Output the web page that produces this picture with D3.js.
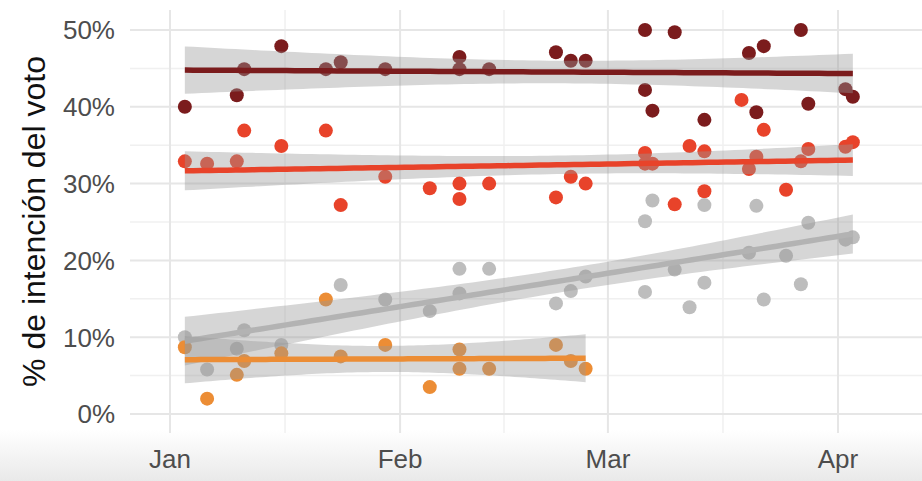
<!DOCTYPE html>
<html>
<head>
<meta charset="utf-8">
<script src="https://cdn.jsdelivr.net/npm/d3@7"></script>
<style>
  body { margin: 0; background: #fff; }
  svg { display: block; font-family: "Liberation Sans", Arial, Helvetica, sans-serif; }
</style>
</head>
<body>
<div id="chart"></div>
<script>
// datos (fecha de la encuesta, % de voto)
var fechasGranate = ["2019-01-03","2019-01-10","2019-01-11","2019-01-16","2019-01-22","2019-01-24","2019-01-30",
  "2019-02-09","2019-02-09","2019-02-13","2019-02-22","2019-02-24","2019-02-26","2019-03-06","2019-03-06",
  "2019-03-07","2019-03-10","2019-03-14","2019-03-20","2019-03-21","2019-03-22","2019-03-27","2019-03-28",
  "2019-04-02","2019-04-03"];
var votosGranate = [40.0, 41.5, 44.9, 47.9, 44.9, 45.8, 44.9, 46.5, 44.9, 44.9, 47.1, 46.0, 46.0, 50.0, 42.2,
  39.5, 49.7, 38.3, 47.0, 39.3, 47.9, 50.0, 40.4, 42.3, 41.3];

var fechasRojo = ["2019-01-03","2019-01-06","2019-01-10","2019-01-11","2019-01-16","2019-01-22","2019-01-24",
  "2019-01-30","2019-02-05","2019-02-09","2019-02-09","2019-02-13","2019-02-22","2019-02-24","2019-02-26",
  "2019-03-06","2019-03-06","2019-03-07","2019-03-10","2019-03-12","2019-03-14","2019-03-14","2019-03-19",
  "2019-03-20","2019-03-21","2019-03-22","2019-03-25","2019-03-27","2019-03-28","2019-04-02","2019-04-03"];
var votosRojo = [32.9, 32.6, 32.9, 36.9, 34.9, 36.9, 27.2, 30.9, 29.4, 30.0, 28.0, 30.0, 28.2, 30.9, 30.0,
  34.0, 32.6, 32.6, 27.3, 34.9, 34.2, 29.0, 40.9, 31.9, 33.5, 37.0, 29.2, 32.9, 34.5, 34.8, 35.4];

var fechasGris = ["2019-01-03","2019-01-06","2019-01-10","2019-01-11","2019-01-16","2019-01-24","2019-01-30",
  "2019-02-05","2019-02-09","2019-02-09","2019-02-13","2019-02-22","2019-02-24","2019-02-26","2019-03-06",
  "2019-03-06","2019-03-07","2019-03-10","2019-03-12","2019-03-14","2019-03-14","2019-03-20","2019-03-21",
  "2019-03-22","2019-03-25","2019-03-27","2019-03-28","2019-04-02","2019-04-03"];
var votosGris = [10.0, 5.8, 8.5, 10.9, 9.0, 16.8, 14.9, 13.4, 18.9, 15.7, 18.9, 14.4, 16.0, 17.9, 25.1,
  15.9, 27.8, 18.8, 13.9, 27.2, 17.1, 21.0, 27.1, 14.9, 20.6, 16.9, 24.9, 22.7, 23.0];

var fechasNaranja = ["2019-01-03","2019-01-06","2019-01-10","2019-01-11","2019-01-16","2019-01-22","2019-01-24",
  "2019-01-30","2019-02-05","2019-02-09","2019-02-09","2019-02-13","2019-02-22","2019-02-24","2019-02-26"];
var votosNaranja = [8.7, 2.0, 5.1, 6.9, 7.9, 14.9, 7.5, 9.0, 3.5, 8.4, 5.9, 5.9, 9.0, 6.9, 5.9];

var marcasY = [0, 10, 20, 30, 40, 50];
var marcasX = ["2019-01-01","2019-02-01","2019-03-01","2019-04-01"];

var colores = ["#7b1c1d", "#e8432a", "#bdbdbd", "#ec8d35"];
var colorLinea = ["#7b1c1d", "#e8432a", "#b3b3b3", "#ec8d35"];

var width = 922, height = 481;
var panelIzq = 130, panelDer = 922, panelArriba = 10, panelAbajo = 433;

var parse = d3.utcParse("%Y-%m-%d");
var series = [
  {fechas: fechasGranate, votos: votosGranate},
  {fechas: fechasRojo, votos: votosRojo},
  {fechas: fechasGris, votos: votosGris},
  {fechas: fechasNaranja, votos: votosNaranja}
].map(function(s, i) {
  return {
    i: i,
    puntos: s.fechas.map(function(f, j) { return {fecha: parse(f), v: s.votos[j]}; })
  };
});

var x = d3.scaleUtc()
    .domain([parse("2019-01-01"), parse("2019-04-01")])
    .range([170, 838]);
var y = d3.scaleLinear()
    .domain([0, 50])
    .range([414, 30]);

var svg = d3.select("#chart").append("svg").attr("width", width).attr("height", height);

// degradado gris en la parte de abajo (como la captura)
var defs = svg.append("defs");
var grad = defs.append("linearGradient").attr("id", "fondoAbajo")
    .attr("x1", 0).attr("y1", 0).attr("x2", 0).attr("y2", 1);
grad.append("stop").attr("offset", "0%").attr("stop-color", "#ffffff");
grad.append("stop").attr("offset", "100%").attr("stop-color", "#e9e9e9");
svg.append("rect").attr("x", 0).attr("y", 430).attr("width", width).attr("height", height - 430)
    .attr("fill", "url(#fondoAbajo)");

// rejilla
var menoresY = d3.range(5, 50, 10);
svg.selectAll(".menorY").data(menoresY).enter().append("line")
    .attr("x1", panelIzq).attr("x2", panelDer)
    .attr("y1", function(d) { return y(d); }).attr("y2", function(d) { return y(d); })
    .attr("stroke", "#f0f0f0").attr("stroke-width", 1.5);

var mesesX = marcasX.map(parse);
var menoresX = d3.pairs(mesesX).map(function(p) { return new Date((+p[0] + +p[1]) / 2); });
svg.selectAll(".menorX").data(menoresX).enter().append("line")
    .attr("y1", panelArriba).attr("y2", panelAbajo)
    .attr("x1", function(d) { return x(d); }).attr("x2", function(d) { return x(d); })
    .attr("stroke", "#f0f0f0").attr("stroke-width", 1.5);

svg.selectAll(".mayorY").data(marcasY).enter().append("line")
    .attr("x1", panelIzq).attr("x2", panelDer)
    .attr("y1", function(d) { return y(d); }).attr("y2", function(d) { return y(d); })
    .attr("stroke", "#e6e6e6").attr("stroke-width", 2);

svg.selectAll(".mayorX").data(mesesX).enter().append("line")
    .attr("y1", panelArriba).attr("y2", panelAbajo)
    .attr("x1", function(d) { return x(d); }).attr("x2", function(d) { return x(d); })
    .attr("stroke", "#e6e6e6").attr("stroke-width", 2);

// puntos
series.forEach(function(s) {
  svg.append("g").selectAll("circle")
    .data(s.puntos)
    .enter().append("circle")
      .attr("cx", function(d) { return x(d.fecha); })
      .attr("cy", function(d) { return y(d.v); })
      .attr("r", 7)
      .attr("fill", colores[s.i]);
});

// regresion lineal con intervalo de confianza 95% (como geom_smooth(method = "lm"))
function ajuste(puntos) {
  var n = puntos.length;
  var xs = puntos.map(function(d) { return +d.fecha / 864e5; });
  var ys = puntos.map(function(d) { return d.v; });
  var mx = d3.mean(xs), my = d3.mean(ys);
  var sxx = d3.sum(xs, function(v) { return (v - mx) * (v - mx); });
  var sxy = d3.sum(xs, function(v, k) { return (v - mx) * (ys[k] - my); });
  var b = sxy / sxx, a = my - b * mx;
  var sse = d3.sum(xs, function(v, k) { var r = ys[k] - (a + b * v); return r * r; });
  var s = Math.sqrt(sse / (n - 2));
  var df = n - 2, z = 1.959964;
  var t = z + (z * z * z + z) / (4 * df) + (5 * Math.pow(z, 5) + 16 * z * z * z + 3 * z) / (96 * df * df);
  var x0 = d3.min(xs), x1 = d3.max(xs);
  return d3.range(80).map(function(k) {
    var xv = x0 + (x1 - x0) * k / 79;
    var fit = a + b * xv;
    var se = s * Math.sqrt(1 / n + (xv - mx) * (xv - mx) / sxx);
    return {fecha: new Date(xv * 864e5), fit: fit, lo: fit - t * se, hi: fit + t * se};
  });
}

var area = d3.area()
    .x(function(d) { return x(d.fecha); })
    .y0(function(d) { return y(d.lo); })
    .y1(function(d) { return y(d.hi); });
var linea = d3.line()
    .x(function(d) { return x(d.fecha); })
    .y(function(d) { return y(d.fit); });

series.forEach(function(s) {
  var f = ajuste(s.puntos);
  svg.append("path").attr("d", area(f))
      .attr("fill", "#999999").attr("fill-opacity", 0.4);
  svg.append("path").attr("d", linea(f))
      .attr("fill", "none").attr("stroke", colorLinea[s.i]).attr("stroke-width", 5.5);
});

// ejes
svg.selectAll(".etqY").data(marcasY).enter().append("text")
    .attr("x", 115)
    .attr("y", function(d) { return y(d); })
    .attr("dy", "0.36em")
    .attr("text-anchor", "end")
    .attr("fill", "#4d4d4d")
    .style("font-size", "26px")
    .text(function(d) { return d + "%"; });

svg.selectAll(".etqX").data(mesesX).enter().append("text")
    .attr("x", function(d) { return x(d); })
    .attr("y", 468)
    .attr("text-anchor", "middle")
    .attr("fill", "#4d4d4d")
    .style("font-size", "26px")
    .text(d3.utcFormat("%b"));

svg.append("text")
    .attr("transform", "translate(45," + ((panelArriba + panelAbajo) / 2) + ") rotate(-90)")
    .attr("text-anchor", "middle")
    .attr("fill", "#111")
    .style("font-size", "32px")
    .text("% de intención del voto");
</script>
</body>
</html>
